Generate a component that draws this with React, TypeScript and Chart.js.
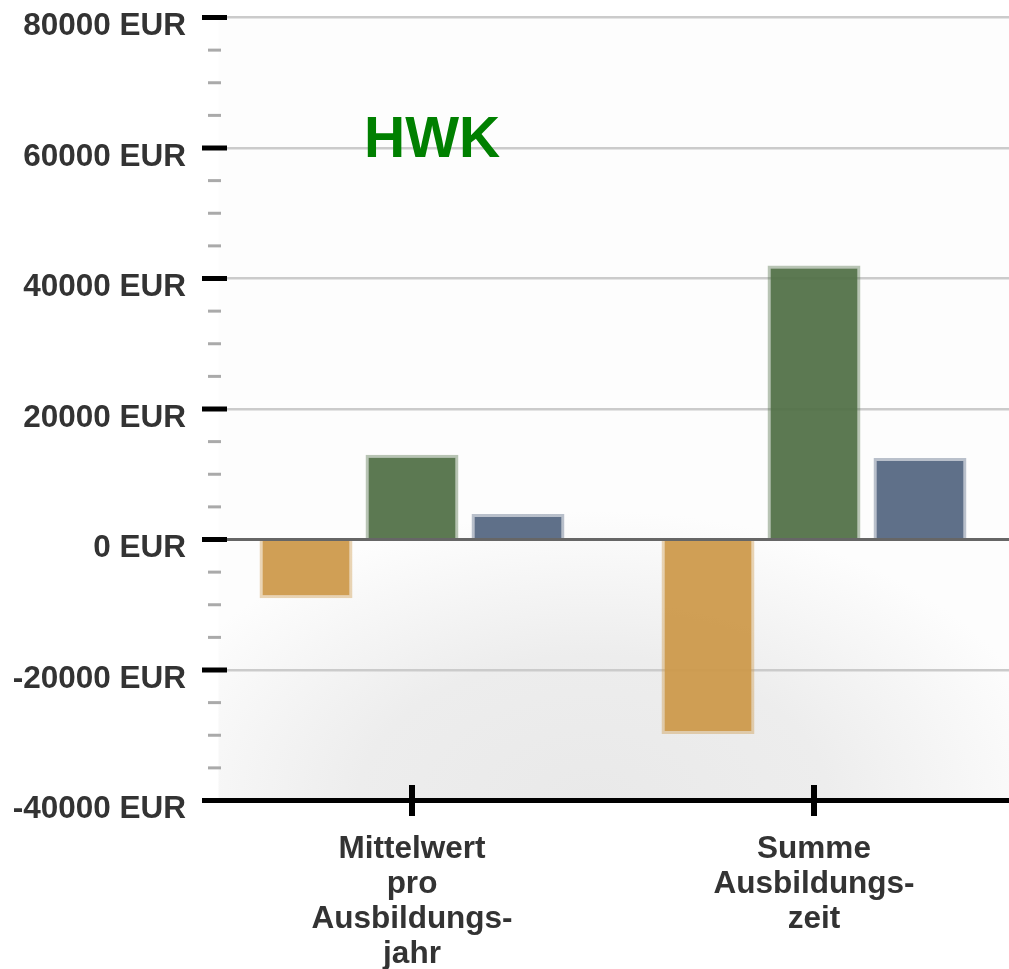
import React, { useEffect, useRef } from "react";
import { Chart, registerables } from "chart.js";

Chart.register(...registerables);

// ---- data ----
const categories: string[][] = [
  ["Mittelwert", "pro", "Ausbildungs-", "jahr"],
  ["Summe", "Ausbildungs-", "zeit"],
];
const seriesOrange = [-9000, -29800];
const seriesGreen = [13000, 42000];
const seriesBlue = [3900, 12500];
const yTicks = [-40000, -20000, 0, 20000, 40000, 60000, 80000];
const yUnit = "EUR";
const minorStep = 5000;
const titleText = "HWK";

const FONT = '"Liberation Sans", Arial, Helvetica, sans-serif';

const bgPlugin = {
  id: "bgPlugin",
  beforeDraw(chart: any) {
    const { ctx, chartArea: a } = chart;
    const l = a.left + 7.5;
    const w = a.right - l;
    const h = a.bottom - a.top;
    ctx.save();
    ctx.beginPath();
    ctx.rect(l, a.top, w, h);
    ctx.clip();
    ctx.fillStyle = "#fdfdfd";
    ctx.fillRect(l, a.top, w, h);
    ctx.translate(l + w * 0.47, a.bottom);
    ctx.scale(470, 290);
    const g = ctx.createRadialGradient(0, 0, 0, 0, 0, 1);
    g.addColorStop(0, "#e9e9e9");
    g.addColorStop(0.5, "#ededed");
    g.addColorStop(1, "#fdfdfd");
    ctx.fillStyle = g;
    ctx.fillRect(-3, -3, 6, 6);
    ctx.restore();
  },
};

const axisPlugin = {
  id: "axisPlugin",
  afterDatasetsDraw(chart: any) {
    const { ctx, chartArea: a } = chart;
    const ys = chart.scales.y;
    const xs = chart.scales.x;
    const line = (x1: number, y1: number, x2: number, y2: number) => {
      ctx.beginPath();
      ctx.moveTo(x1, y1);
      ctx.lineTo(x2, y2);
      ctx.stroke();
    };
    ctx.save();
    // minor ticks
    ctx.strokeStyle = "#aaaaaa";
    ctx.lineWidth = 3;
    for (let v = ys.min; v <= ys.max; v += minorStep) {
      if (yTicks.includes(v)) continue;
      const p = ys.getPixelForValue(v);
      line(a.left - 3, p, a.left + 10, p);
    }
    // zero line
    ctx.strokeStyle = "#666666";
    ctx.lineWidth = 3;
    const z = ys.getPixelForValue(0);
    line(a.left, z, a.right, z);
    // major ticks
    ctx.strokeStyle = "#000000";
    ctx.lineWidth = 5;
    yTicks.forEach((v) => {
      const p = ys.getPixelForValue(v);
      line(a.left - 9, p, a.left + 16, p);
    });
    // bottom axis
    line(a.left - 9, a.bottom, a.right, a.bottom);
    // category ticks
    ctx.lineWidth = 6;
    categories.forEach((_, i) => {
      const px = xs.getPixelForValue(i);
      line(px, a.bottom - 15.5, px, a.bottom + 15.5);
    });
    // title text
    ctx.fillStyle = "#008000";
    ctx.font = `bold 57px ${FONT}`;
    ctx.textBaseline = "alphabetic";
    ctx.textAlign = "left";
    ctx.fillText(titleText, a.left + 153, a.top + 139.5);
    ctx.restore();
  },
};

export default function App() {
  const ref = useRef<HTMLCanvasElement | null>(null);

  useEffect(() => {
    if (!ref.current) return;
    const common = { borderWidth: 3, categoryPercentage: 0.791, barPercentage: 0.877 };
    const chart = new Chart(ref.current, {
      type: "bar",
      data: {
        labels: categories as any,
        datasets: [
          {
            label: "A",
            data: seriesOrange,
            backgroundColor: "rgba(204,152,72,0.93)",
            borderColor: "rgba(204,152,72,0.4)",
            ...common,
          },
          {
            label: "B",
            data: seriesGreen,
            backgroundColor: "rgba(80,111,69,0.93)",
            borderColor: "rgba(80,111,69,0.4)",
            ...common,
          },
          {
            label: "C",
            data: seriesBlue,
            backgroundColor: "rgba(83,101,128,0.93)",
            borderColor: "rgba(83,101,128,0.4)",
            ...common,
          },
        ],
      },
      options: {
        responsive: false,
        animation: false,
        layout: { padding: 0 },
        plugins: {
          legend: { display: false },
          tooltip: { enabled: false },
          title: { display: false },
        },
        scales: {
          x: {
            offset: true,
            grid: { display: false, drawTicks: false },
            border: { display: false },
            ticks: {
              color: "#333333",
              font: { family: FONT, size: 31.5, weight: "bold", lineHeight: "35px" },
              padding: 31,
              maxRotation: 0,
              autoSkip: false,
            },
            afterFit: (s: any) => {
              s.height = 168.5;
              s.paddingLeft = 0;
              s.paddingRight = 0;
              s.paddingTop = 0;
              s.paddingBottom = 0;
            },
          },
          y: {
            min: yTicks[0],
            max: yTicks[yTicks.length - 1],
            afterBuildTicks: (s: any) => {
              s.ticks = yTicks.map((v) => ({ value: v }));
            },
            grid: { color: "#cbcbcb", lineWidth: 2.5, drawTicks: false },
            border: { display: false },
            ticks: {
              color: "#333333",
              font: { family: FONT, size: 31.5, weight: "bold", lineHeight: "35px" },
              padding: 25,
              labelOffset: 9,
              callback: (v: any) => `${v} ${yUnit}`,
            },
            afterFit: (s: any) => {
              s.width = 211;
              s.paddingTop = 17.5;
              s.paddingBottom = 0;
              s.paddingLeft = 0;
              s.paddingRight = 0;
            },
          },
        },
      } as any,
      plugins: [bgPlugin, axisPlugin],
    });
    return () => chart.destroy();
  }, []);

  return (
    <div
      style={{
        position: "absolute",
        left: 0,
        top: 0,
        width: 1009,
        height: 969,
        overflow: "hidden",
        background: "#ffffff",
      }}
    >
      <canvas ref={ref} width={1015} height={969} style={{ display: "block" }} />
    </div>
  );
}
